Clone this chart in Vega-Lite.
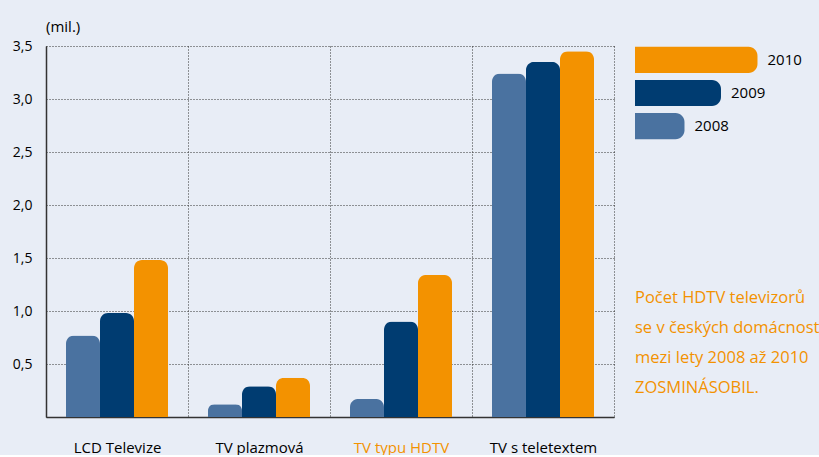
{
  "$schema": "https://vega.github.io/schema/vega-lite/v6.json",
  "background": "#e8edf6",
  "padding": {"left": 12, "top": 20, "right": 0, "bottom": 0},
  "config": {"font": "Open Sans", "view": {"stroke": null}},
  "bounds": "flush",
  "spacing": 21,
  "datasets": {
    "tv": [
      {"category": "LCD Televize", "year": 2008, "value": 0.77},
      {"category": "LCD Televize", "year": 2009, "value": 0.98},
      {"category": "LCD Televize", "year": 2010, "value": 1.48},
      {"category": "TV plazmová", "year": 2008, "value": 0.12},
      {"category": "TV plazmová", "year": 2009, "value": 0.29},
      {"category": "TV plazmová", "year": 2010, "value": 0.37},
      {"category": "TV typu HDTV", "year": 2008, "value": 0.17},
      {"category": "TV typu HDTV", "year": 2009, "value": 0.90},
      {"category": "TV typu HDTV", "year": 2010, "value": 1.34},
      {"category": "TV s teletextem", "year": 2008, "value": 3.24},
      {"category": "TV s teletextem", "year": 2009, "value": 3.35},
      {"category": "TV s teletextem", "year": 2010, "value": 3.45}
    ],
    "keys": [
      {"year": 2008},
      {"year": 2009},
      {"year": 2010}
    ]
  },
  "hconcat": [
    {
      "width": 568,
      "height": 371,
      "title": {"text": "(mil.)", "anchor": "start", "frame": "group", "fontSize": 15, "fontWeight": "normal", "offset": 4, "color": "#000"},
      "data": {"name": "tv"},
      "mark": {"type": "bar", "cornerRadiusEnd": 8},
      "encoding": {
        "x": {
          "field": "category", "type": "nominal",
          "sort": ["LCD Televize", "TV plazmová", "TV typu HDTV", "TV s teletextem"],
          "scale": {"paddingInner": 0, "paddingOuter": 0},
          "axis": {
            "title": null, "tickBand": "extent", "ticks": false, "grid": true,
            "gridDash": [1, 2], "gridColor": "#333", "gridOpacity": 1,
            "domainColor": "#333", "domainWidth": 1.5,
            "labelAngle": 0, "labelFontSize": 15, "labelPadding": 23,
            "labelColor": {"condition": {"test": "datum.value === 'TV typu HDTV'", "value": "#f39200"}, "value": "#000"}
          }
        },
        "xOffset": {"field": "year", "type": "ordinal", "scale": {"paddingInner": 0, "paddingOuter": 0.588}},
        "y": {
          "field": "value", "type": "quantitative",
          "scale": {"domain": [0, 3.5], "nice": false},
          "axis": {
            "title": null, "values": [0, 0.5, 1, 1.5, 2, 2.5, 3, 3.5], "ticks": false, "grid": true,
            "gridDash": [1, 2], "gridColor": "#333", "gridOpacity": 1,
            "domainColor": "#333", "domainWidth": 1.5,
            "labelFontSize": 14, "labelPadding": 14, "labelColor": "#000",
            "labelExpr": "datum.value == 0 ? '' : replace(format(datum.value, '.1f'), '.', ',')"
          }
        },
        "color": {
          "field": "year", "type": "ordinal",
          "scale": {"domain": [2008, 2009, 2010], "range": ["#4a72a0", "#003c71", "#f39200"]},
          "legend": null
        }
      }
    },
    {
      "width": 183,
      "height": 94,
      "title": {
        "text": ["Počet HDTV televizorů", "se v českých domácnost", "mezi lety 2008 až 2010", "ZOSMINÁSOBIL."],
        "orient": "bottom", "anchor": "start", "frame": "group",
        "fontSize": 16.5, "fontWeight": "normal", "color": "#f39200",
        "lineHeight": 30, "offset": 150, "baseline": "top"
      },
      "data": {"name": "keys"},
      "encoding": {
        "y": {"field": "year", "type": "ordinal", "sort": "descending", "axis": null, "scale": {"paddingInner": 0.21, "paddingOuter": 0.02}},
        "x": {"field": "year", "type": "quantitative", "scale": {"domain": [2006.644, 2011.658], "zero": false, "nice": false}, "axis": null}
      },
      "layer": [
        {
          "mark": {"type": "bar", "cornerRadiusTopRight": 9, "cornerRadiusBottomRight": 9},
          "encoding": {
            "x2": {"datum": 2006.644},
            "color": {
              "field": "year", "type": "ordinal",
              "scale": {"domain": [2008, 2009, 2010], "range": ["#4a72a0", "#003c71", "#f39200"]},
              "legend": null
            }
          }
        },
        {
          "mark": {"type": "text", "align": "left", "baseline": "middle", "dx": 10, "fontSize": 15, "color": "#000"},
          "encoding": {"text": {"field": "year", "type": "ordinal"}}
        }
      ]
    }
  ]
}
